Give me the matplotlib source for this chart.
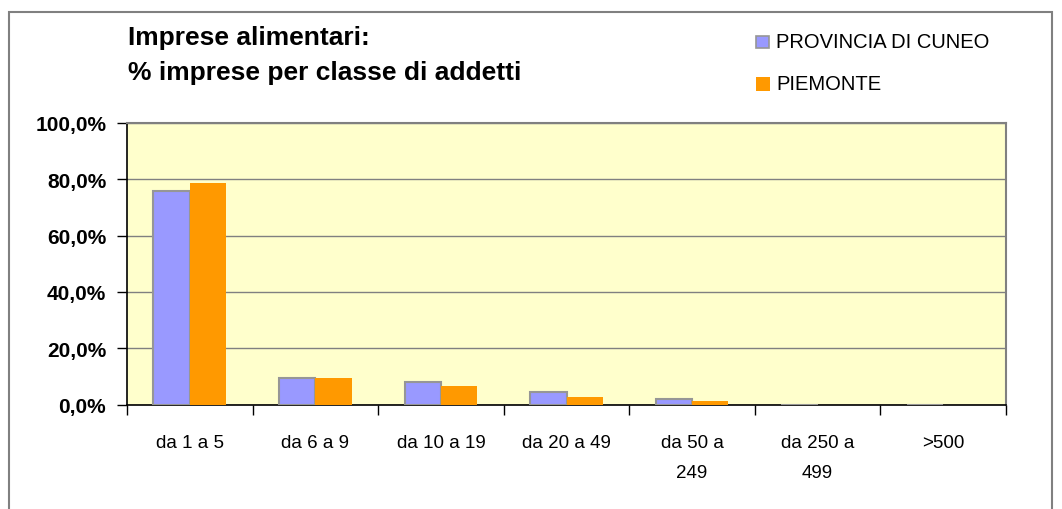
import matplotlib
matplotlib.use("Agg")
import matplotlib.pyplot as plt
from matplotlib.patches import Rectangle
from matplotlib.ticker import FuncFormatter, FixedLocator
import numpy as np

plt.rcParams['font.family'] = ['Liberation Sans', 'DejaVu Sans']

categories = ["da 1 a 5", "da 6 a 9", "da 10 a 19", "da 20 a 49",
              "da 50 a\n249", "da 250 a\n499", ">500"]
cuneo = [75.9, 9.5, 8.1, 4.4, 2.1, 0.0, 0.0]
piemonte = [78.6, 9.3, 6.6, 2.7, 1.4, 0.0, 0.0]
series_names = ["PROVINCIA DI CUNEO", "PIEMONTE"]
yticks = [0, 20, 40, 60, 80, 100]

W, H = 1062, 510
fig = plt.figure(figsize=(W / 100, H / 100), dpi=100)
fig.patch.set_facecolor("white")

# outer chart frame
fig.add_artist(Rectangle((9 / W, -0.05), (1052 - 9) / W, 1.05 - 13 / H,
                         transform=fig.transFigure, fill=False,
                         edgecolor="#808080", linewidth=1.5))

ax = fig.add_axes([127 / W, 104.5 / H, (1006 - 127) / W, (405.5 - 124) / H])
ax.set_facecolor("#FFFFCC")

x = np.arange(len(categories))
bw = 0.29
ax.bar(x - bw / 2, cuneo, width=bw, color="#9999FF", edgecolor="#969696",
       linewidth=1.5, zorder=3)
ax.bar(x + bw / 2, piemonte, width=bw, color="#FF9900", edgecolor="none",
       zorder=3)

ax.set_xlim(-0.5, len(categories) - 0.5)
ax.set_ylim(0, 100)
ax.set_yticks(yticks)
ax.yaxis.set_major_formatter(FuncFormatter(lambda v, p: f"{v:.1f}%".replace(".", ",")))
ax.yaxis.grid(True, color="#808080", linewidth=1, zorder=1)
ax.tick_params(axis="y", direction="out", length=7, width=1, color="black",
               labelsize=15, pad=8)
for lab in ax.get_yticklabels():
    lab.set_fontweight("bold")

ax.set_xticks(x)
ax.set_xticklabels(categories, fontsize=13.5, linespacing=2.0, va="top")
ax.tick_params(axis="x", which="major", length=0, pad=21)
ax.xaxis.set_minor_locator(FixedLocator(np.arange(-0.5, len(categories), 1.0)))
ax.tick_params(axis="x", which="minor", direction="out", length=7, width=1,
               color="black")

for s in ["left", "bottom"]:
    ax.spines[s].set_color("black")
    ax.spines[s].set_linewidth(1.2)
for s in ["top", "right"]:
    ax.spines[s].set_color("#808080")
    ax.spines[s].set_linewidth(1.5)

# title
fig.text(128 / W, 1 - 38 / H, "Imprese alimentari:", fontsize=19,
         fontweight="bold", va="center", ha="left")
fig.text(128 / W, 1 - 73 / H, "% imprese per classe di addetti", fontsize=19,
         fontweight="bold", va="center", ha="left")

# legend
fig.add_artist(Rectangle((756 / W, 1 - 49 / H), 13 / W, 12 / H,
                         transform=fig.transFigure, facecolor="#9999FF",
                         edgecolor="#969696", linewidth=1.2))
fig.add_artist(Rectangle((756 / W, 1 - 92 / H), 14 / W, 14 / H,
                         transform=fig.transFigure, facecolor="#FF9900",
                         edgecolor="none"))
fig.text(776 / W, 1 - 43 / H, series_names[0], fontsize=14.5, va="center", ha="left")
fig.text(776 / W, 1 - 85 / H, series_names[1], fontsize=14.5, va="center", ha="left")

fig.savefig("out.png", dpi=100)
